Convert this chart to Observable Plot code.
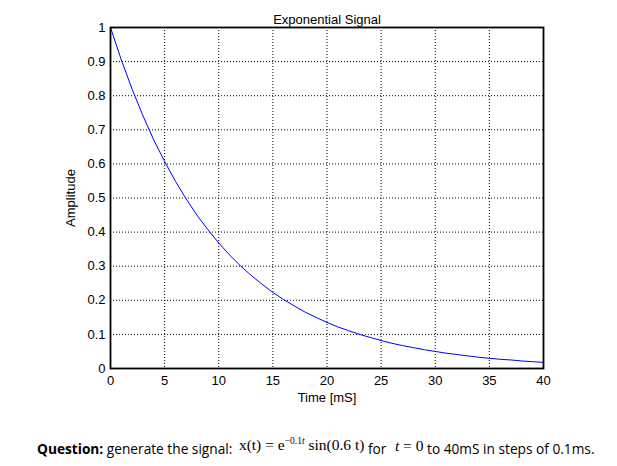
<!DOCTYPE html>
<html>
<head>
<meta charset="utf-8">
<script src="https://cdn.jsdelivr.net/npm/d3@7"></script>
<script src="https://cdn.jsdelivr.net/npm/@observablehq/plot@0.6"></script>
<style>
  html, body { margin: 0; padding: 0; background: #fff; }
  #chart svg { display: block; }
  #caption { position: absolute; left: 37px; top: 439px; font-family: "Open Sans", "Liberation Sans", sans-serif; font-size: 13.7px; color: #000; white-space: nowrap; }
  #caption .m { font-family: "Liberation Serif", serif; font-size: 15.5px; }
  #caption sup { font-size: 9.5px; }
</style>
</head>
<body>
<div id="chart"></div>
<div id="caption"><b>Question:</b> generate the signal: <span class="m" style="position:relative;top:-4px;margin-left:3px">x(t) = e<sup>−0.1<i>t</i></sup> sin(0.6 t)</span> for <span class="m" style="position:relative;top:-3px;margin-left:5px"><i>t</i> = 0</span> to 40mS in steps of 0.1ms.</div>
<script>
const timeMs = [0,1,2,3,4,5,6,7,8,9,10,11,12,13,14,15,16,17,18,19,20,21,22,23,24,25,26,27,28,29,30,31,32,33,34,35,36,37,38,39,40];
const amplitude = [1.0,0.905,0.819,0.741,0.670,0.607,0.549,0.497,0.449,0.407,0.368,0.333,0.301,0.273,0.247,0.223,0.202,0.183,0.165,0.150,0.135,0.122,0.111,0.100,0.091,0.082,0.074,0.067,0.061,0.055,0.050,0.045,0.041,0.037,0.033,0.030,0.027,0.025,0.022,0.020,0.018];
const xTicks = [0,5,10,15,20,25,30,35,40];
const yTicks = [0,0.1,0.2,0.3,0.4,0.5,0.6,0.7,0.8,0.9,1];
const titleText = "Exponential Signal";
const xLabel = "Time [mS]";
const yLabel = "Amplitude";

const data = timeMs.map((t, i) => ({t, a: amplitude[i]}));

const chart = Plot.plot({
  width: 617,
  height: 410,
  marginLeft: 110,
  marginRight: 74,
  marginTop: 27,
  marginBottom: 42,
  style: {fontFamily: "Liberation Sans, Arial, sans-serif", fontSize: "13px", color: "#000", background: "#fff"},
  x: {domain: [0, 40]},
  y: {domain: [0, 1]},
  marks: [
    Plot.gridX(xTicks, {stroke: "#000", strokeOpacity: 1, strokeWidth: 1, strokeDasharray: "1,2"}),
    Plot.gridY(yTicks, {stroke: "#000", strokeOpacity: 1, strokeWidth: 1, strokeDasharray: "1,2"}),
    Plot.axisX(xTicks, {tickSize: 0, tickPadding: 7, fontSize: 13, label: xLabel, labelAnchor: "center", labelArrow: "none", labelOffset: 33}),
    Plot.axisY(yTicks, {tickSize: 0, tickPadding: 5, fontSize: 13, tickFormat: d => String(d), label: yLabel, labelAnchor: "center", labelArrow: "none", labelOffset: 45}),
    Plot.lineY(data, {x: "t", y: "a", stroke: "#0000ff", strokeWidth: 1}),
    Plot.frame({stroke: "#000", strokeWidth: 1.8}),
    Plot.text([titleText], {frameAnchor: "top", dy: -13, fontSize: 13, fill: "#000"})
  ]
});
document.getElementById("chart").appendChild(chart);
</script>
</body>
</html>
